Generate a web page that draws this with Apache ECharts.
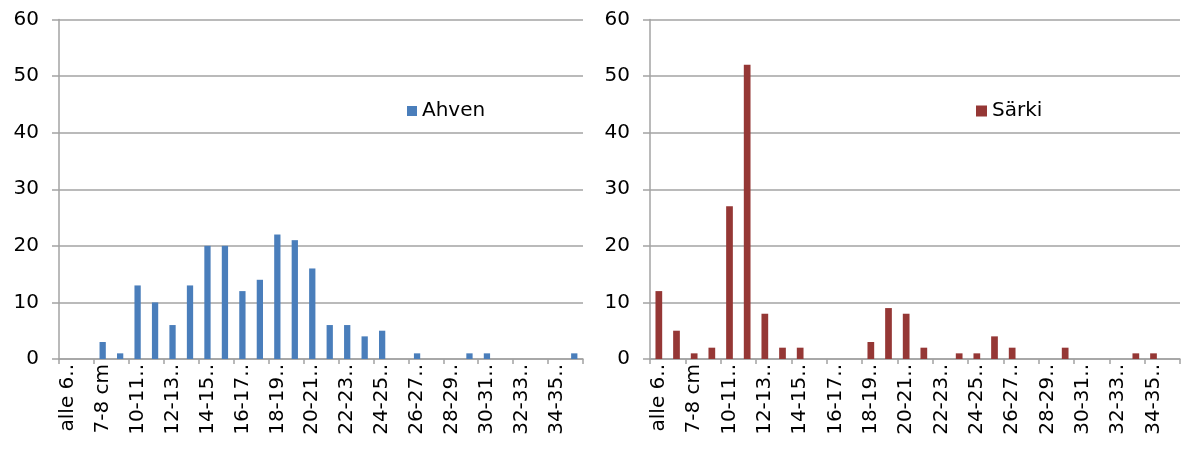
<!DOCTYPE html>
<html>
<head>
<meta charset="utf-8">
<title>Ahven / Särki</title>
<script src="https://cdn.jsdelivr.net/npm/echarts@6.0.0/dist/echarts.min.js"></script>
<style>
    html, body { margin: 0; padding: 0; background: #fff; }
    #chart { width: 1184px; height: 450px; }
</style>
</head>
<body>
<div id="chart"></div>
<script>
// --- 1. Data ---
const categories = [
    'alle 6 cm', '6-7 cm', '7-8 cm', '8-10 cm',
    '10-11 cm', '11-12 cm', '12-13 cm', '13-14 cm', '14-15 cm', '15-16 cm',
    '16-17 cm', '17-18 cm', '18-19 cm', '19-20 cm', '20-21 cm', '21-22 cm',
    '22-23 cm', '23-24 cm', '24-25 cm', '25-26 cm', '26-27 cm', '27-28 cm',
    '28-29 cm', '29-30 cm', '30-31 cm', '31-32 cm', '32-33 cm', '33-34 cm',
    '34-35 cm', '35-36 cm'
];
const ahven = [0, 0, 3, 1, 13, 10, 6, 13, 20, 20, 12, 14, 22, 21, 16, 6, 6, 4, 5, 0, 1, 0, 0, 1, 1, 0, 0, 0, 0, 1];
const sarki = [12, 5, 1, 2, 27, 52, 8, 2, 2, 0, 0, 0, 3, 9, 8, 2, 0, 1, 1, 4, 2, 0, 0, 2, 0, 0, 0, 1, 1, 0];
const yMin = 0;
const yMax = 60;
const yStep = 10;

document.addEventListener('DOMContentLoaded', function() {
    const font = 'DejaVu Sans';
    const gray = '#a3a3a3';

    function xAxisFor(idx) {
        return {
            type: 'category',
            gridIndex: idx,
            data: categories,
            boundaryGap: true,
            axisLine: { show: true, lineStyle: { color: gray, width: 1.5 } },
            axisTick: { show: true, interval: 1, length: 5, lineStyle: { color: gray, width: 1.5 } },
            axisLabel: {
                interval: 1,
                rotate: 90,
                margin: 5,
                color: '#000',
                fontFamily: font,
                fontSize: 20,
                width: 72,
                overflow: 'truncate',
                ellipsis: '..'
            }
        };
    }

    function yAxisFor(idx) {
        return {
            type: 'value',
            gridIndex: idx,
            min: yMin,
            max: yMax,
            interval: yStep,
            axisLine: { show: true, lineStyle: { color: gray, width: 1.5 } },
            axisTick: { show: true, length: 7, lineStyle: { color: gray, width: 1.5 } },
            axisLabel: { margin: 20, color: '#000', fontFamily: font, fontSize: 20 },
            splitLine: { show: true, lineStyle: { color: gray, width: 1.5 } }
        };
    }

    // --- 2. Chart ---
    const chart = echarts.init(document.getElementById('chart'));
    chart.setOption({
        backgroundColor: '#fff',
        animation: false,
        grid: [
            { left: 59, top: 19.5, width: 524, bottom: 91, containLabel: false },
            { left: 650, top: 19.5, right: 4, bottom: 91, containLabel: false }
        ],
        legend: [
            {
                data: ['Ahven'],
                left: 402, top: 96,
                itemWidth: 10, itemHeight: 10,
                itemGap: 8,
                icon: 'rect',
                textStyle: { color: '#000', fontFamily: font, fontSize: 20 }
            },
            {
                data: ['Särki'],
                left: 971, top: 96,
                itemWidth: 11, itemHeight: 11,
                icon: 'rect',
                textStyle: { color: '#000', fontFamily: font, fontSize: 20 }
            }
        ],
        xAxis: [xAxisFor(0), xAxisFor(1)],
        yAxis: [yAxisFor(0), yAxisFor(1)],
        series: [
            {
                name: 'Ahven',
                type: 'bar',
                xAxisIndex: 0,
                yAxisIndex: 0,
                data: ahven,
                barWidth: '36%',
                itemStyle: { color: '#4a7ebb' }
            },
            {
                name: 'Särki',
                type: 'bar',
                xAxisIndex: 1,
                yAxisIndex: 1,
                data: sarki,
                barWidth: '38%',
                itemStyle: { color: '#953735' }
            }
        ]
    });
});
</script>
</body>
</html>
